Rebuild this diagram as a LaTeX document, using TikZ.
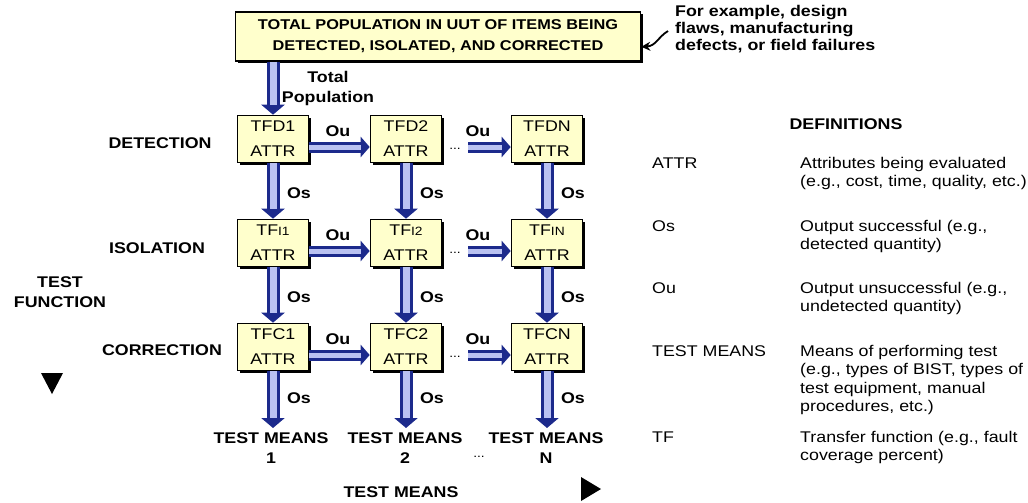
\documentclass[tikz,border=0pt]{standalone}
\usepackage{fontspec}
\setmainfont{Liberation Sans}[FakeStretch=1.15]
\usetikzlibrary{arrows.meta,shadows,calc}
\definecolor{boxfill}{HTML}{FFFFCC}
\definecolor{arrowedge}{HTML}{1C2A8C}
\definecolor{arrowfill}{HTML}{BAC2F2}
\begin{document}
\begin{tikzpicture}[x=1pt,y=-1pt,
  tfbox/.style={draw=black, line width=1.6pt, fill=boxfill, minimum width=71pt, minimum height=47pt,
    inner sep=0pt, align=center, font=\fontsize{15.5}{25}\selectfont,
    drop shadow={shadow xshift=2pt,shadow yshift=-2pt,fill=black,opacity=1}},
  topbox/.style={draw=black, line width=1.6pt, fill=boxfill, minimum width=405pt, minimum height=49pt,
    inner sep=0pt, align=center, font=\bfseries\fontsize{14.2}{21}\selectfont,
    drop shadow={shadow xshift=2pt,shadow yshift=-2pt,fill=black,opacity=1}},
  lbl/.style={font=\bfseries\fontsize{15.5}{20}\selectfont, inner sep=0pt},
  ann/.style={font=\bfseries\fontsize{15.5}{17}\selectfont, inner sep=0pt, align=left},
  defs/.style={font=\fontsize{15.5}{18.5}\selectfont, align=left, anchor=base west, inner sep=0pt},
  dots/.style={font=\fontsize{12}{12}\selectfont, inner sep=0pt},
  bigarrow/.style={draw=arrowedge, line width=13pt, -{Triangle[length=10pt,width=23pt]},
    postaction={draw=arrowfill, line width=7pt, shorten >=10pt, -}},
  hararrow/.style={draw=arrowedge, line width=11pt, -{Triangle[length=9pt,width=20pt]},
    postaction={draw=arrowfill, line width=5pt, shorten >=9pt, -}},
]
\useasboundingbox (0,0) rectangle (1028,503);

% top box and annotation
\node[topbox] (top) at (438,36.5) {TOTAL POPULATION IN UUT OF ITEMS BEING\\DETECTED, ISOLATED, AND CORRECTED};
\node[ann, anchor=north west] (note) at (675,5) {For example, design\\flaws, manufacturing\\defects, or field failures};
\coordinate (notestart) at ($(note.west)+(-7,2)$);
\coordinate (noteend) at ($(top.south east)+(0,-15)$);
\draw[line width=1.8pt, -{Stealth[length=9pt,width=9pt]}] (notestart) .. controls (658,37) and (656,46) .. (noteend);

% test function boxes
\foreach \nm/\x/\y/\t in {d1/273/139/TFD1, d2/406/139/TFD2, dN/547/139/TFDN,
  c1/273/347/TFC1, c2/406/347/TFC2, cN/547/347/TFCN}{
  \node[tfbox] (\nm) at (\x,\y) {\t\\ATTR};
}
\node[tfbox] (i1) at (273,243) {TF{\fontsize{12}{12}\selectfont I1}\\ATTR};
\node[tfbox] (i2) at (406,243) {TF{\fontsize{12}{12}\selectfont I2}\\ATTR};
\node[tfbox] (iN) at (547,243) {TF{\fontsize{12}{12}\selectfont IN}\\ATTR};

% total population arrow
\draw[bigarrow] (top.south -| d1) -- (d1.north);
\node[lbl, align=center] (tp) at (328,88) {Total\\Population};

% vertical Os arrows
\foreach \a/\b in {d1/i1, d2/i2, dN/iN, i1/c1, i2/c2, iN/cN}{
  \draw[bigarrow] (\a.south) -- (\b.north);
}
\foreach \x in {299,432,573}{
  \node[lbl] at (\x,193) {Os};
  \node[lbl] at (\x,297) {Os};
  \node[lbl] at (\x,398) {Os};
}

% bottom arrows and test means
\coordinate (e1) at (273,428);
\coordinate (e2) at (406,428);
\coordinate (eN) at (547,428);
\draw[bigarrow] (c1.south) -- (e1);
\draw[bigarrow] (c2.south) -- (e2);
\draw[bigarrow] (cN.south) -- (eN);
\node[lbl, align=center] (tm1) at (271,448) {TEST MEANS\\1};
\node[lbl, align=center] (tm2) at (405,448) {TEST MEANS\\2};
\node[lbl, align=center] (tmN) at (546,448) {TEST MEANS\\N};
\node[dots] (bd) at (479,457) {...};
\node[lbl] (tmaxis) at (401,492) {TEST MEANS};
\fill (581,477) -- (601,489) -- (581,501) -- cycle;

% horizontal Ou arrows
\foreach \r/\rowy in {d/139, i/243, c/347}{
  \draw[hararrow] ([yshift=-8pt]\r1.east) -- ([yshift=-8pt]\r2.west);
  \node[dots] (dots\r) at (455,\rowy+10) {...};
  \coordinate (s\r) at (468,\rowy+8);
  \draw[hararrow] (s\r) -- (s\r -| \r N.west);
  \node[lbl] at (338,\rowy-8) {Ou};
  \node[lbl] at (478,\rowy-8) {Ou};
}

% row labels
\node[lbl] (ldet) at (160,143) {DETECTION};
\node[lbl] (liso) at (157,248) {ISOLATION};
\node[lbl] (lcor) at (162,350) {CORRECTION};
\node[lbl, align=center] (ltf) at (60,292) {TEST\\FUNCTION};
\fill (41,373) -- (63,373) -- (52,394) -- cycle;

% definitions
\node[font=\bfseries\fontsize{15.5}{16}\selectfont, inner sep=0pt] (defh) at (846,124) {DEFINITIONS};
\node[defs] (t1) at (652,168) {ATTR};
\node[defs] (d1t) at (800,186.5) {Attributes being evaluated\\(e.g., cost, time, quality, etc.)};
\node[defs] (t2) at (652,231) {Os};
\node[defs] (d2t) at (800,249.5) {Output successful (e.g.,\\detected quantity)};
\node[defs] (t3) at (652,293) {Ou};
\node[defs] (d3t) at (800,311.5) {Output unsuccessful (e.g.,\\undetected quantity)};
\node[defs] (t4) at (652,356) {TEST MEANS};
\node[defs] (d4t) at (800,411.5) {Means of performing test\\(e.g., types of BIST, types of\\test equipment, manual\\procedures, etc.)};
\node[defs] (t5) at (652,442) {TF};
\node[defs] (d5t) at (800,460.5) {Transfer function (e.g., fault\\coverage percent)};
\end{tikzpicture}
\end{document}
